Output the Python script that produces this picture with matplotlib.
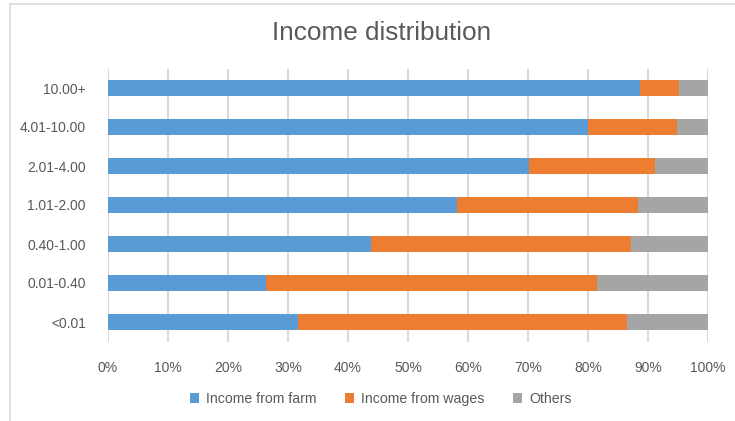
import matplotlib
matplotlib.use("Agg")
import matplotlib.pyplot as plt
from matplotlib.lines import Line2D
from matplotlib.patches import Patch
import numpy as np

categories = ["<0.01", "0.01-0.40", "0.40-1.00", "1.01-2.00", "2.01-4.00", "4.01-10.00", "10.00+"]
farm = [31.6, 26.3, 43.9, 58.2, 70.2, 80.0, 88.7]
wages = [54.9, 55.2, 43.3, 30.1, 20.9, 14.9, 6.5]
others = [13.5, 18.5, 12.8, 11.7, 8.9, 5.1, 4.8]
series_names = ["Income from farm", "Income from wages", "Others"]
colors = ["#5B9BD5", "#ED7D31", "#A5A5A5"]
xticks = list(range(0, 101, 10))
xticklabels = [f"{t}%" for t in xticks]

plt.rcParams['font.family'] = ['Liberation Sans', 'DejaVu Sans']

W, H = 735, 421
fig = plt.figure(figsize=(W / 100, H / 100), dpi=100)
ax = fig.add_axes([108 / W, 1 - 341.5 / H, 600 / W, 273 / H])

y = np.arange(len(categories))
left = np.zeros(len(categories))
for vals, name, c in zip([farm, wages, others], series_names, colors):
    ax.barh(y, vals, left=left, height=0.41, color=c, label=name, zorder=3)
    left = left + np.array(vals)

ax.set_xlim(0, 100)
ax.set_ylim(-0.5, len(categories) - 0.5)
ax.set_xticks(xticks)
ax.set_xticklabels(xticklabels)
ax.set_yticks(y)
ax.set_yticklabels(categories)
ax.grid(axis='x', color='#D9D9D9', linewidth=1.5, zorder=0)
for s in ax.spines.values():
    s.set_visible(False)
ax.tick_params(axis='both', length=0, colors='#595959', labelsize=10)
ax.tick_params(axis='y', pad=16)
ax.tick_params(axis='x', pad=14)

fig.text(382 / W, 1 - 33 / H, "Income distribution", ha='center', va='center',
         fontsize=18.8, color='#595959')

handles = [Patch(facecolor=c, label=n) for n, c in zip(series_names, colors)]
fig.legend(handles=handles, loc='center', bbox_to_anchor=(381 / W, 1 - 399 / H),
           ncol=3, frameon=False, fontsize=10.2, handlelength=0.65, handleheight=0.65,
           handletextpad=0.5, columnspacing=2.0, labelcolor='#595959')

fig.add_artist(Line2D([10 / W, 1], [1 - 4 / H, 1 - 4 / H], color='#D9D9D9', linewidth=1.2))
fig.add_artist(Line2D([10 / W, 10 / W], [0, 1 - 4 / H], color='#D9D9D9', linewidth=1.2))

fig.savefig("out.png", dpi=100)
